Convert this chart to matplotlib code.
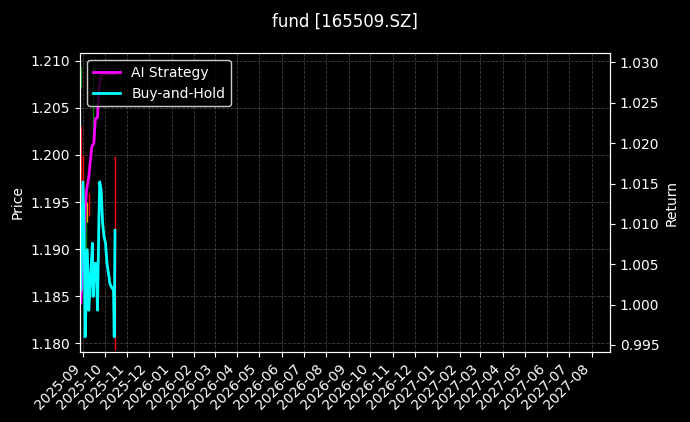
import matplotlib
matplotlib.use("Agg")
import matplotlib.pyplot as plt
import matplotlib.dates as mdates
import pandas as pd

start = pd.Timestamp("2025-08-29")
# buy-and-hold return: (day offset, value)
bh_days = [0, 3, 5, 6, 7, 9, 11, 13, 16, 17, 19, 21, 23, 25, 26, 28, 30, 32, 34, 36, 38, 40, 42, 45, 46, 47]
bh_vals = [1.0018, 1.0152, 1.0068, 0.9960, 0.9993, 1.0068, 0.9993, 1.0026, 1.0076, 1.0010, 1.0051, 1.0051,
           0.9993, 1.0109, 1.0152, 1.0142, 1.0101, 1.0084, 1.0076, 1.0051, 1.0039, 1.0026, 1.0022, 1.0018, 0.9960, 1.0092]
ai_days = [0, 3, 6, 8, 11, 15, 18, 20, 23, 24, 25, 28, 32, 36, 40, 44, 47]
ai_vals = [1.0002, 1.0050, 1.0120, 1.0142, 1.0158, 1.0195, 1.0200, 1.0230, 1.0232, 1.0253, 1.0270, 1.0284,
           1.0286, 1.0286, 1.0285, 1.0285, 1.0286]
# price candles: (day offset, low, high, colour)
c_days = [1, 1, 3, 7, 8, 11, 17, 47]
c_low = [1.2071, 1.1950, 1.1930, 1.1890, 1.1929, 1.1935, 1.2020, 1.1793]
c_high = [1.2094, 1.2031, 1.2000, 1.1960, 1.1950, 1.1960, 1.2094, 1.1999]
c_col = ["green", "red", "red", "green", "orange", "red", "green", "red"]
ticks = pd.date_range("2025-09-01", "2027-08-01", freq="MS")

plt.style.use("dark_background")
fig = plt.figure(figsize=(6.9, 4.22), dpi=100)
ax = fig.add_axes([0.116, 0.166, 0.768, 0.708])
ax2 = ax.twinx()
cd = [start + pd.Timedelta(days=d) for d in c_days]
ax.vlines(cd, c_low, c_high, colors=c_col, linewidth=1)
ax.set_ylim(1.1791, 1.2108)
ax.set_ylabel("Price")
ax.grid(True, linestyle="--", color="gray", alpha=0.5, linewidth=0.6)
ax2.plot([start + pd.Timedelta(days=d) for d in ai_days], ai_vals, color="magenta", lw=2, label="AI Strategy")
ax2.plot([start + pd.Timedelta(days=d) for d in bh_days], bh_vals, color="cyan", lw=2, label="Buy-and-Hold")
ax2.set_ylim(0.99413, 1.03115)
ax2.set_ylabel("Return")
ax.set_xlim(pd.Timestamp("2025-08-28"), pd.Timestamp("2027-08-26"))
ax.set_xticks(ticks)
ax.xaxis.set_major_formatter(mdates.DateFormatter("%Y-%m"))
plt.setp(ax.get_xticklabels(), rotation=45, ha="right")
ax2.legend(loc="upper left", facecolor="black", edgecolor="white", framealpha=0.8)
fig.suptitle("fund [165509.SZ]", y=0.97)
fig.savefig("out.png", dpi=100)
